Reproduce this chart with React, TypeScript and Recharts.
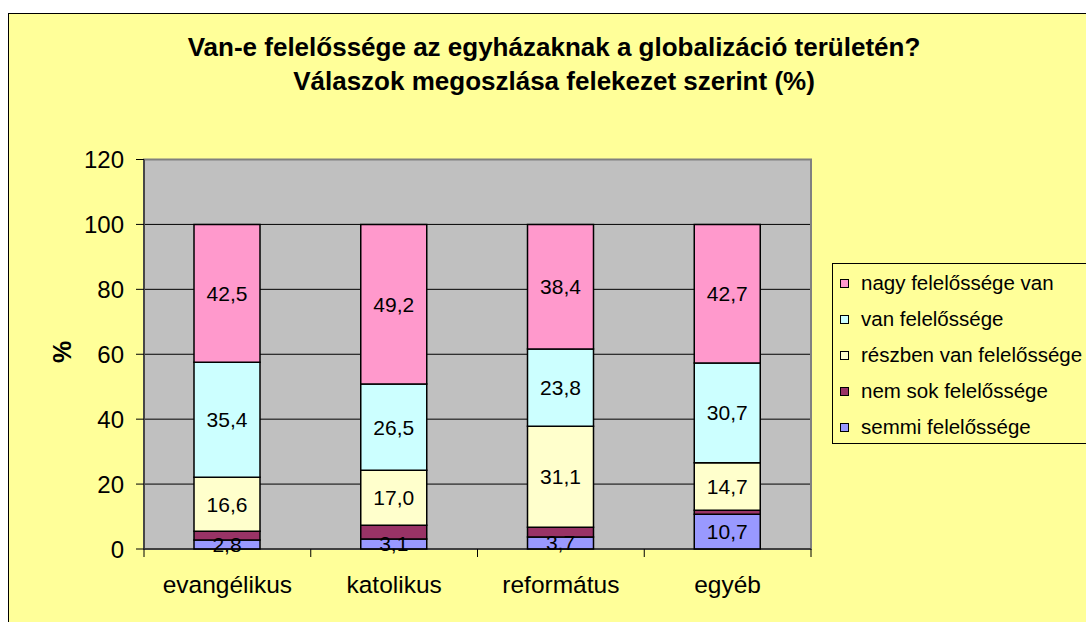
import { BarChart, Bar, XAxis, YAxis, CartesianGrid, ReferenceArea, LabelList } from "recharts";

const categories = ["evangélikus", "katolikus", "református", "egyéb"];

const semmi = [2.8, 3.1, 3.7, 10.7];
const nemSok = [2.7, 4.2, 3.0, 1.2];
const reszben = [16.6, 17.0, 31.1, 14.7];
const van = [35.4, 26.5, 23.8, 30.7];
const nagy = [42.5, 49.2, 38.4, 42.7];

const yTicks = [0, 20, 40, 60, 80, 100, 120];

// bottom to top in the stack
const series = [
  { key: "semmi", name: "semmi felelőssége", color: "#9999FF", values: semmi, label: true },
  { key: "nemSok", name: "nem sok felelőssége", color: "#993366", values: nemSok, label: false },
  { key: "reszben", name: "részben van felelőssége", color: "#FFFFCC", values: reszben, label: true },
  { key: "van", name: "van felelőssége", color: "#CCFFFF", values: van, label: true },
  { key: "nagy", name: "nagy felelőssége van", color: "#FF99CC", values: nagy, label: true },
];

const data = categories.map((name, i) => {
  const row: Record<string, string | number> = { name };
  series.forEach((s) => (row[s.key] = s.values[i]));
  return row;
});

const W = 1086;
const H = 622;
const PLOT_LEFT = 144;
const PLOT_RIGHT = 811;
const PLOT_TOP = 159.5;
const BAND = (PLOT_RIGHT - PLOT_LEFT) / categories.length;
const FONT = "Arial, 'Liberation Sans', sans-serif";

const fmt = (v: any) => Number(v).toFixed(1).replace(".", ",");

const XTick = (props: any) => {
  const { x, y, payload, index } = props;
  const half = BAND / 2;
  return (
    <g>
      <line x1={x - half} y1={y} x2={x - half} y2={y + 8} stroke="#000" />
      {index === categories.length - 1 && (
        <line x1={x + half} y1={y} x2={x + half} y2={y + 8} stroke="#000" />
      )}
      <text x={x} y={y + 44} textAnchor="middle" fontSize={24.5} fill="#000" fontFamily={FONT}>
        {payload.value}
      </text>
    </g>
  );
};

export default function App() {
  return (
    <div style={{ position: "absolute", left: 0, top: 0, width: W, height: H, overflow: "hidden", background: "#fff", fontFamily: FONT }}>
      <div
        style={{
          position: "absolute",
          left: 8,
          top: 13,
          width: W,
          height: H,
          background: "#FFFF99",
          borderTop: "1px solid #000",
          borderLeft: "1px solid #000",
        }}
      />
      <div style={{ position: "absolute", left: 0, top: 0 }}>
        <BarChart
          width={W}
          height={H}
          data={data}
          margin={{ top: PLOT_TOP, right: W - PLOT_RIGHT, bottom: 0, left: 0 }}
          barSize={66}
        >
          <CartesianGrid vertical={false} stroke="#000" fill="#C0C0C0" fillOpacity={1} />
          <ReferenceArea y1={0} y2={120} fill="none" stroke="#808080" strokeWidth={2} ifOverflow="visible" />
          <XAxis
            dataKey="name"
            height={H - 549}
            tickLine={false}
            tickSize={0}
            tickMargin={0}
            axisLine={{ stroke: "#000" }}
            tick={<XTick />}
            interval={0}
          />
          <YAxis
            domain={[0, 120]}
            ticks={yTicks}
            width={PLOT_LEFT}
            tickSize={8}
            tickMargin={12}
            axisLine={{ stroke: "#333", strokeWidth: 1.5 }}
            tickLine={{ stroke: "#000" }}
            tick={{ fontSize: 24, fill: "#000", fontFamily: FONT }}
            interval={0}
          />
          {series.map((s) => (
            <Bar
              key={s.key}
              dataKey={s.key}
              name={s.name}
              stackId="a"
              fill={s.color}
              stroke="#000"
              strokeWidth={1.5}
              isAnimationActive={false}
            >
              {s.label && (
                <LabelList
                  dataKey={s.key}
                  position="center"
                  formatter={fmt}
                  style={{ fontSize: 21, fill: "#000", fontFamily: FONT }}
                />
              )}
            </Bar>
          ))}
        </BarChart>
      </div>

      <div style={{ position: "absolute", left: 0, width: 1108, top: 30, textAlign: "center", fontWeight: "bold", fontSize: 26, lineHeight: "34px", color: "#000" }}>
        Van-e felelőssége az egyházaknak a globalizáció területén?
        <br />
        Válaszok megoszlása felekezet szerint (%)
      </div>

      <div
        style={{
          position: "absolute",
          left: 62,
          top: 352,
          transform: "translate(-50%, -50%) rotate(-90deg)",
          fontWeight: "bold",
          fontSize: 25,
          color: "#000",
        }}
      >
        %
      </div>

      <div
        style={{
          position: "absolute",
          left: 832,
          top: 263,
          width: 300,
          height: 179,
          border: "1px solid #000",
          background: "#FFFF99",
        }}
      >
        {[...series].reverse().map((s, i) => (
          <div key={s.key} style={{ position: "absolute", left: 7, top: 6 + i * 36, height: 26, display: "flex", alignItems: "center", fontSize: 20.5, color: "#000", whiteSpace: "nowrap" }}>
            <span style={{ display: "inline-block", width: 7, height: 7, background: s.color, border: "1px solid #000", marginRight: 12 }} />
            {s.name}
          </div>
        ))}
      </div>
    </div>
  );
}
